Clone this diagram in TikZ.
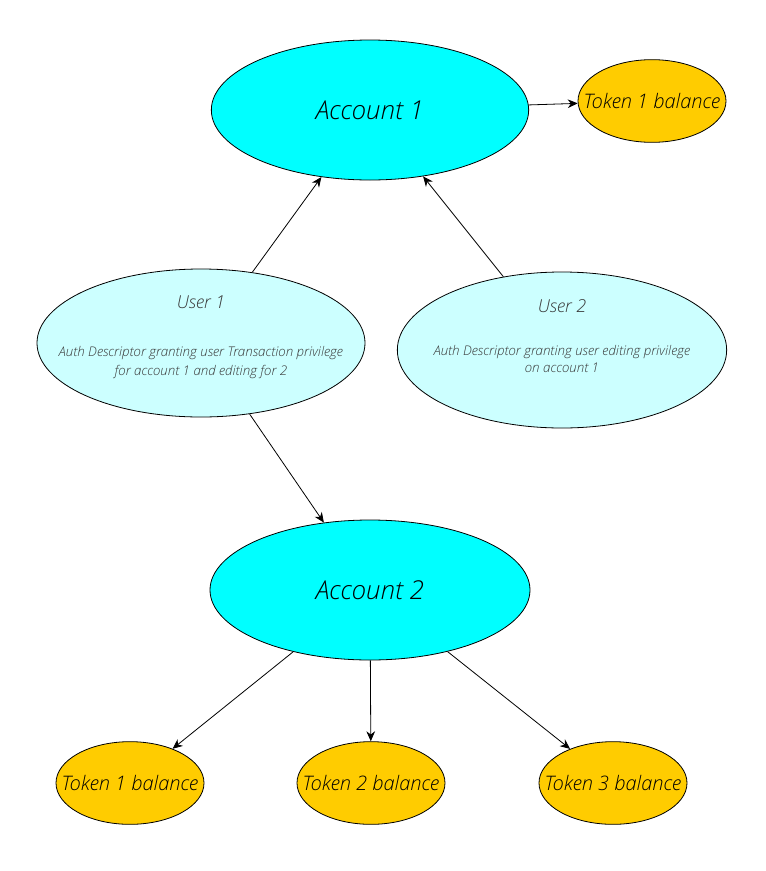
\documentclass[tikz,border=0pt]{standalone}
\usepackage{fontspec}
\setmainfont{Open Sans}[UprightFont=* Light, ItalicFont=* Light Italic]
\usetikzlibrary{shapes.geometric,arrows.meta}
\definecolor{acccyan}{HTML}{00FFFF}
\definecolor{usercyan}{HTML}{CCFFFF}
\definecolor{tokgold}{HTML}{FFCC00}
\tikzset{
  konto/.style={ellipse, draw, line width=0.6pt, fill=acccyan, minimum width=238pt, minimum height=105pt, font=\fontsize{19.5}{23}\selectfont\itshape},
  nutzer/.style={ellipse, draw, line width=0.6pt, fill=usercyan, align=center, inner xsep=-25pt, text depth=0pt, text=black!78, font=\fontsize{10}{14}\selectfont\itshape},
  saldo/.style={ellipse, draw, line width=0.6pt, fill=tokgold, minimum width=111pt, minimum height=62pt, inner xsep=-15pt, inner ysep=0pt, font=\fontsize{15}{18}\selectfont\itshape},
  pfeil/.style={-{Stealth[length=7.5pt,width=6.5pt]}, line width=0.6pt}
}
\begin{document}
\begin{tikzpicture}[x={(0.75pt,0)}, y={(0,-0.75pt)}]
    \useasboundingbox (0,0) rectangle (765,871);                                        % Seite
    \node[konto] (konto1) at (370,110) {Account 1};                                     % Account 1
    \node[saldo] (saldo1) at (652,101) {Token 1 balance};                               % Token oben
    \node[nutzer, minimum width=246pt, minimum height=111pt, text height=48.8pt] (nutzer1) at (201,343)
        {{\fontsize{13.4}{16}\selectfont User 1}\\[22pt]Auth Descriptor granting user Transaction privilege\\
         for account 1 and editing for 2};                                              % User 1
    \node[nutzer, minimum width=247pt, minimum height=117pt, text height=33.8pt] (nutzer2) at (562,350)
        {{\fontsize{13.4}{16}\selectfont User 2}\\[18pt]Auth Descriptor granting user editing privilege\\[-1pt]
         on account 1};                                                                 % User 2
    \node[konto, minimum width=240pt] (konto2) at (370,590) {Account 2};                % Account 2
    \node[saldo] (saldoa) at (130,783) {Token 1 balance};                               % Token 1
    \node[saldo] (saldob) at (371,783) {Token 2 balance};                               % Token 2
    \node[saldo] (saldoc) at (613,783) {Token 3 balance};                               % Token 3
    \draw[pfeil] (konto1) -- (saldo1);
    \draw[pfeil] (nutzer1) -- (konto1);
    \draw[pfeil] (nutzer2) -- (konto1);
    \draw[pfeil] (nutzer1) -- (konto2);
    \draw[pfeil] (konto2) -- (saldoa);
    \draw[pfeil] (konto2) -- (saldob);
    \draw[pfeil] (konto2) -- (saldoc);
\end{tikzpicture}
\end{document}
